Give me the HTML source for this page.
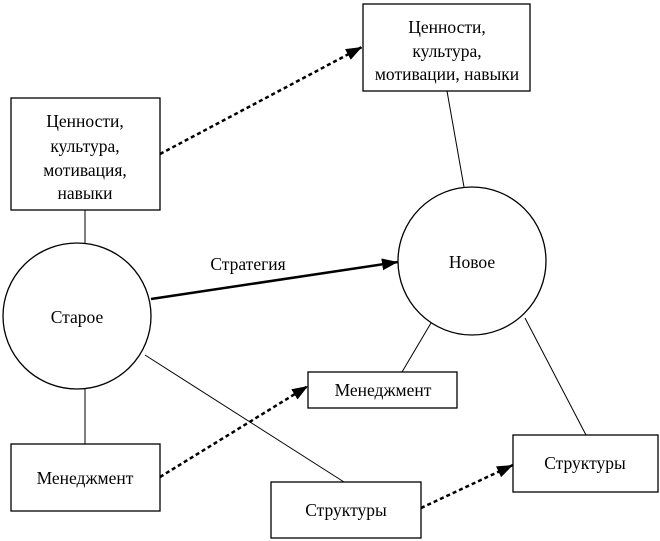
<!DOCTYPE html>
<html><head><meta charset="utf-8"><style>
html,body{margin:0;padding:0;background:#fff;}
svg{display:block;}
text{font-family:"Liberation Serif","DejaVu Serif",serif;font-size:17.5px;fill:#000;text-anchor:middle;}
</style></head><body>
<svg width="660" height="541" viewBox="0 0 660 541">
<defs>
<marker id="b" viewBox="0 0 10 10" refX="10" refY="5" markerWidth="16" markerHeight="12" orient="auto" markerUnits="userSpaceOnUse" preserveAspectRatio="none">
<path d="M0,0 L10,5 L0,10 z" fill="#000"/>
</marker>
</defs>
<g fill="#fff" stroke="#000" stroke-width="1.3">
<rect x="363" y="4" width="167" height="87"/>
<rect x="11" y="98" width="149" height="112"/>
<rect x="11" y="444" width="149" height="67"/>
<rect x="308" y="372" width="149" height="36"/>
<rect x="513" y="435" width="145" height="57"/>
<rect x="271" y="482" width="150" height="56"/>
<ellipse cx="77" cy="316" rx="74" ry="73"/>
<ellipse cx="472" cy="261" rx="74" ry="74"/>
</g>
<g stroke="#000" stroke-width="1" fill="none">
<line x1="447" y1="91" x2="464" y2="187"/>
<line x1="85" y1="210" x2="85" y2="243"/>
<line x1="85" y1="389" x2="85" y2="444"/>
<line x1="431" y1="323" x2="402" y2="372"/>
<line x1="525" y1="318" x2="586" y2="435"/>
<line x1="145" y1="355" x2="344" y2="482"/>
</g>
<line x1="151" y1="299" x2="398" y2="262" stroke="#000" stroke-width="2.5" marker-end="url(#b)"/>
<g stroke="#000" stroke-width="2.5" stroke-dasharray="4 3" fill="none">
<line x1="160" y1="154" x2="362" y2="47" marker-end="url(#b)"/>
<line x1="160" y1="477" x2="308" y2="386" marker-end="url(#b)"/>
<line x1="421" y1="508" x2="513" y2="465" marker-end="url(#b)"/>
</g>
<text x="447" y="33">Ценности,</text>
<text x="447" y="57">культура,</text>
<text x="447" y="80">мотивации, навыки</text>
<text x="85" y="127">Ценности,</text>
<text x="85" y="152">культура,</text>
<text x="85" y="176">мотивация,</text>
<text x="85" y="199">навыки</text>
<text x="248" y="270">Стратегия</text>
<text x="77" y="323">Старое</text>
<text x="472" y="268">Новое</text>
<text x="383" y="396">Менеджмент</text>
<text x="85" y="484">Менеджмент</text>
<text x="585" y="469">Структуры</text>
<text x="346" y="516">Структуры</text>
</svg>
</body></html>
